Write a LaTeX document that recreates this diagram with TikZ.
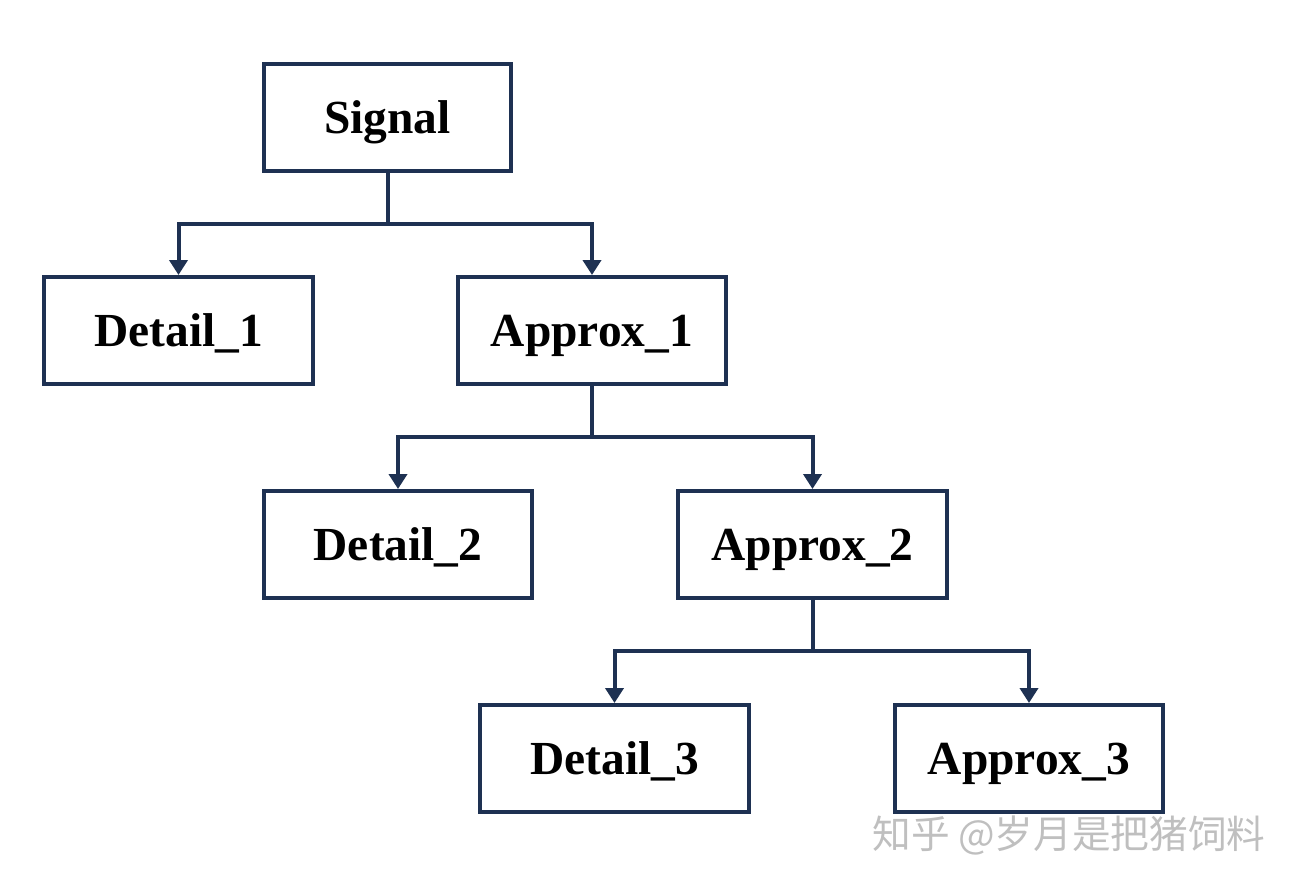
\documentclass[tikz,border=0pt]{standalone}
\usepackage{fontspec}
\setmainfont{Liberation Serif}
\newfontfamily\cjk{Noto Sans CJK SC}
\usetikzlibrary{arrows.meta}
\definecolor{navy}{HTML}{1E3152}
\def\boxfont{\fontsize{27}{32}\selectfont\bfseries}

\begin{document}
\begin{tikzpicture}[x=0.02cm,y=-0.02cm,
        box/.style={draw=navy,line width=0.08cm,fill=white,minimum width=5.38cm,
            minimum height=2.14cm,inner sep=0pt,text height=0.63cm,text depth=0cm,font=\boxfont},
        link/.style={draw=navy,line width=0.08cm},
        arrow/.style={link,-{Triangle[width=0.36cm,length=0.3cm]}},
        wmtext/.style={text=black!25,font=\cjk\fontsize{22}{26}\selectfont,inner sep=0pt}]
    \useasboundingbox (0,0) rectangle (1294,888);
    % nodes
    \node[box,minimum width=4.94cm] (sig) at (387.5,117.5) {Signal};
    \node[box] (d1) at (178.5,330.5) {Detail\_1};
    \node[box] (a1) at (592,330.5) {Approx\_1};
    \node[box] (d2) at (398,544.5) {Detail\_2};
    \node[box] (a2) at (812.5,544.5) {Approx\_2};
    \node[box] (d3) at (614.5,758.5) {Detail\_3};
    \node[box] (a3) at (1029,758.5) {Approx\_3};
    % links
    \draw[link] (sig.south) -- ++(0,51) coordinate (b1);
    \draw[arrow] (b1) -| (d1.north);
    \draw[arrow] (b1) -| (a1.north);
    \draw[link] (a1.south) -- ++(0,51) coordinate (b2);
    \draw[arrow] (b2) -| (d2.north);
    \draw[arrow] (b2) -| (a2.north);
    \draw[link] (a2.south) -- ++(0,51) coordinate (b3);
    \draw[arrow] (b3) -| (d3.north);
    \draw[arrow] (b3) -| (a3.north);
    % watermark
    \node[wmtext] (wm) at (1069,836) {知乎 @岁月是把猪饲料};
\end{tikzpicture}
\end{document}
